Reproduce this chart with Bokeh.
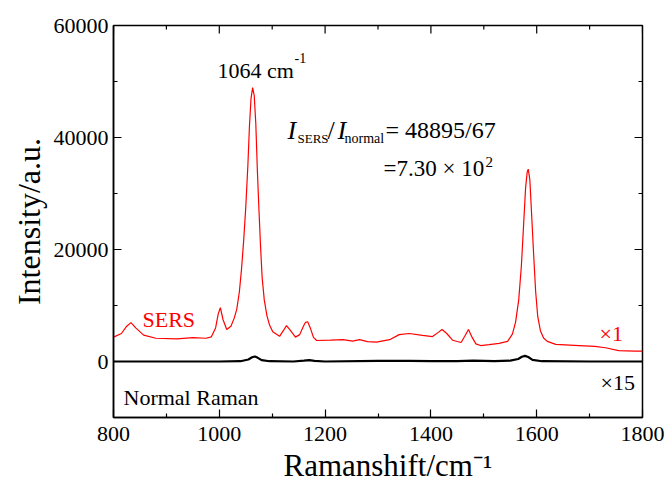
from bokeh.plotting import figure
from bokeh.models import FixedTicker, Range1d, Label, Title
from bokeh.embed import file_html
from bokeh.resources import INLINE

# ---------------- data ----------------
sers_x = [800, 815, 825, 833, 842, 857, 880, 920, 950, 975, 985, 993, 998, 1002, 1007,
          1014, 1022, 1028, 1033, 1038, 1042, 1046, 1050, 1054, 1057, 1060, 1063, 1066,
          1069, 1072, 1075, 1078, 1081, 1085, 1090, 1095, 1101, 1114, 1121, 1127, 1134,
          1144, 1152, 1159, 1163, 1167, 1172, 1178, 1184, 1210, 1234, 1252, 1265, 1280,
          1297, 1322, 1340, 1359, 1384, 1403, 1414, 1421, 1430, 1441, 1457, 1464, 1471,
          1478, 1485, 1494, 1510, 1529, 1545, 1554, 1560, 1566, 1571, 1575, 1579, 1582,
          1584, 1587, 1590, 1594, 1598, 1602, 1607, 1613, 1620, 1636, 1680, 1710, 1730,
          1755, 1786, 1800]
sers_y = [4350, 5000, 6300, 6950, 6000, 4700, 4150, 4050, 4250, 4150, 4400, 6000, 8500,
          9600, 7500, 5700, 6300, 7700, 9300, 12500, 16500, 21500, 27500, 35000, 42000,
          47000, 48900, 47500, 42500, 34000, 27000, 20500, 15000, 11000, 8200, 6500, 5300,
          4500, 5500, 6400, 5600, 4350, 4800, 6300, 7000, 7100, 6000, 4300, 3750, 3800,
          3900, 3650, 3900, 3550, 3450, 3900, 4800, 5000, 4650, 4450, 5200, 5700, 5000,
          3800, 3400, 4500, 5700, 4300, 3150, 2850, 3000, 3250, 3600, 4900, 7000, 11000,
          17000, 24000, 31000, 33800, 34350, 32500, 27000, 19500, 12500, 8000, 5500, 4200,
          3600, 3050, 2850, 2700, 2450, 1950, 1850, 1850]

normal_x = [800, 900, 1000, 1040, 1055, 1062, 1067, 1072, 1080, 1095, 1140, 1160, 1170,
            1180, 1200, 1300, 1360, 1400, 1450, 1480, 1520, 1550, 1565, 1572, 1578, 1584,
            1592, 1610, 1700, 1800]
normal_y = [0, 0, 0, 50, 350, 750, 900, 700, 250, 50, 0, 150, 250, 100, 0, 100, 100, 50,
            50, 150, 50, 150, 450, 850, 1000, 800, 300, 50, 0, 0]

x_major = [800, 1000, 1200, 1400, 1600, 1800]
x_minor = [900, 1100, 1300, 1500, 1700]
y_major = [0, 20000, 40000, 60000]
y_minor = [-10000, 10000, 30000, 50000]
X_MIN, X_MAX = 800, 1800
Y_MIN, Y_MAX = -10000, 60000

FONT = "Liberation Serif"

p = figure(width=668, height=488, output_backend="svg", toolbar_location=None,
           x_range=Range1d(X_MIN, X_MAX), y_range=Range1d(Y_MIN, Y_MAX),
           min_border_left=113, min_border_right=26, min_border_top=25,
           min_border_bottom=71)
p.grid.visible = False
p.outline_line_color = "black"
p.outline_line_width = 1.5
p.background_fill_color = "white"
p.border_fill_color = "white"

for ax, tk in ((p.xaxis[0], FixedTicker(ticks=x_major, minor_ticks=x_minor)),
               (p.yaxis[0], FixedTicker(ticks=y_major, minor_ticks=y_minor))):
    ax.ticker = tk
    ax.axis_line_width = 1.5
    ax.major_tick_in = 8
    ax.major_tick_out = 0
    ax.minor_tick_in = 4
    ax.minor_tick_out = 0
    ax.major_tick_line_width = 1.2
    ax.minor_tick_line_width = 1.2
    ax.major_label_text_font = FONT
    ax.major_label_text_font_size = "22px"
    ax.major_label_text_color = "black"

p.xaxis.major_label_standoff = 9
p.yaxis.major_label_standoff = 5

# axis titles
p.add_layout(Title(text="Ramanshift/cm\u207b\u00b9", align="left", offset=170,
                   standoff=4, text_font=FONT, text_font_size="31px",
                   text_font_style="normal", text_color="black"), "below")
p.add_layout(Title(text="Intensity/a.u.", align="center", offset=23, standoff=8,
                   text_font=FONT, text_font_size="32px", text_font_style="normal",
                   text_color="black"), "left")

# tick marks on the top and right frame edges (dash markers, clipped to frame)
p.scatter(x_major, [Y_MAX] * len(x_major), marker="dash", size=16, angle=1.5708,
          line_color="black", line_width=1.2)
p.scatter(x_minor, [Y_MAX] * len(x_minor), marker="dash", size=8, angle=1.5708,
          line_color="black", line_width=1.2)
p.scatter([X_MAX] * len(y_major), y_major, marker="dash", size=16,
          line_color="black", line_width=1.2)
p.scatter([X_MAX] * len(y_minor), y_minor, marker="dash", size=8,
          line_color="black", line_width=1.2)

p.line(sers_x, sers_y, line_color="#ff0000", line_width=1.2)
p.line(normal_x, normal_y, line_color="black", line_width=2.2)


# pixel (in page picture) -> data helpers for annotation placement
def dx(px):
    return 800 + (px - 113) / 529 * 1000


def dy(py):
    return (362 - py) / 337 * 60000


def lab(px, py, text, size, color="black", fstyle="normal"):
    p.add_layout(Label(x=dx(px), y=dy(py), text=text, text_font=FONT,
                       text_font_size=size, text_color=color, text_font_style=fstyle,
                       text_baseline="alphabetic", text_align="left"))


lab(217, 70, "1064 cm", "22px")
lab(294, 58, "-1", "14px")

lab(287, 130, "I", "26px", fstyle="italic")
lab(297, 138, "SERS", "13px")
lab(327, 130, "/", "26px")
lab(337, 130, "I", "26px", fstyle="italic")
lab(344, 138, "normal", "14px")
lab(385, 130, "= 48895/67", "24px")
lab(383, 168, "=7.30 × 10", "23px")
lab(485, 162, "2", "15px")

lab(142, 320, "SERS", "22px", color="#ff0000")
lab(599, 334, "×1", "22px", color="#ff0000")
lab(123, 398, "Normal Raman", "22px")
lab(600, 383, "×15", "22px")

open("out.html", "w").write(file_html(p, INLINE))
